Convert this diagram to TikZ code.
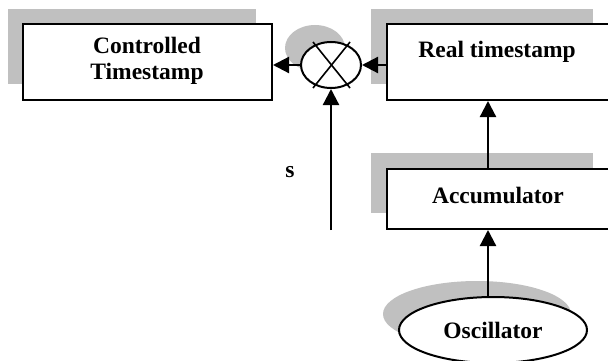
\documentclass[tikz,border=0pt]{standalone}
\usepackage{fontspec}
\setmainfont{Liberation Serif}
\usetikzlibrary{arrows.meta,shapes.geometric}
\definecolor{shade}{RGB}{192,192,192}
\tikzset{
  box/.style={draw=black, line width=2pt, fill=white, rectangle, inner sep=0pt},
  shadowbox/.style={fill=shade, draw=none, rectangle, inner sep=0pt},
  oval/.style={draw=black, line width=2pt, fill=white, ellipse, inner sep=0pt},
  shadowoval/.style={fill=shade, draw=none, ellipse, inner sep=0pt},
  lbl/.style={font=\bfseries\fontsize{23.5}{27}\selectfont, align=center, inner sep=0pt},
  flow/.style={line width=2.2pt, -{Triangle[length=16pt,width=16pt]}}
}
\begin{document}
\begin{tikzpicture}[x=1pt,y=-1pt]
\clip (0,0) rectangle (608,361);
\fill[white] (0,0) rectangle (608,361);
% shadows
\node[shadowbox, minimum width=248pt, minimum height=75pt] (sh1) at (132,46.5) {};
\node[shadowbox, minimum width=222pt, minimum height=75pt] (sh2) at (482,46.5) {};
\node[shadowbox, minimum width=222pt, minimum height=60pt] (sh3) at (482,183) {};
\node[shadowoval, minimum width=60pt, minimum height=46pt] (sh4) at (315,48) {};
\node[shadowoval, minimum width=188pt, minimum height=66pt] (sh5) at (477,314) {};
% boxes
\node[box, minimum width=249pt, minimum height=76pt] (ct) at (147.5,62) {};
\node[lbl] at (147,61) {Controlled\\[-1pt]Timestamp};
\node[box, minimum width=240pt, minimum height=76pt] (rt) at (507,62) {};
\node[lbl] at (497,52) {Real timestamp};
\node[box, minimum width=240pt, minimum height=60pt] (acc) at (507,199) {};
\node[lbl] at (498,195) {Accumulator};
\node[oval, minimum width=188pt, minimum height=66pt, lbl] (osc) at (493,330) {Oscillator};
% summing junction
\node[oval, minimum width=60pt, minimum height=46pt] (sum) at (331,65) {};
\draw[line width=1.6pt] (313,42) -- (350,88);
\draw[line width=1.6pt] (350,42) -- (313,88);
% s input
\coordinate (sin) at (331,230);
\node[lbl] (s) at (290,172) {s};
% connectors
\draw[flow] (osc.north -| 488,0) -- (acc.south -| 488,0);
\draw[flow] (acc.north -| 488,0) -- (rt.south -| 488,0);
\draw[flow] (rt.west |- sum.east) -- (sum.east);
\draw[flow] (sum.west) -- (ct.east |- sum.west);
\draw[flow] (sin) -- (sum.south);
\end{tikzpicture}
\end{document}
